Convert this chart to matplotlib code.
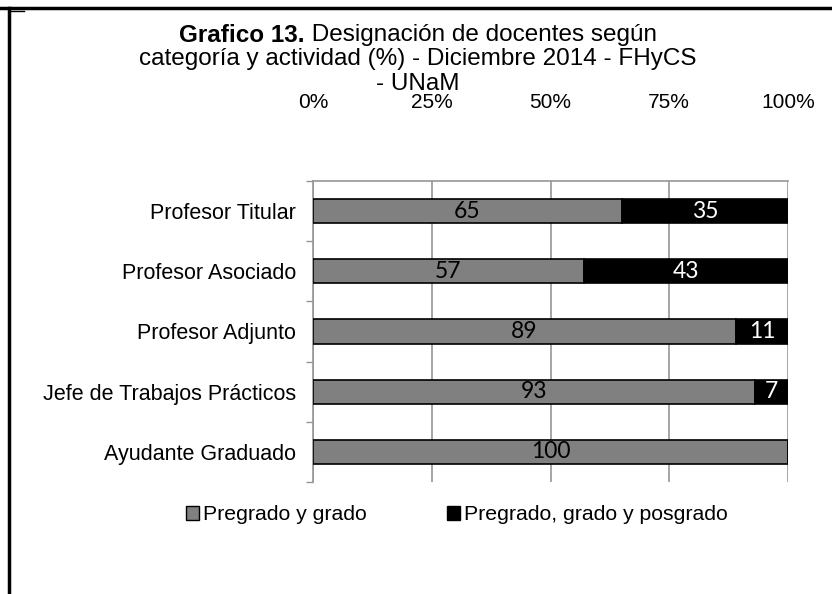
import matplotlib
matplotlib.use("Agg")
import matplotlib.pyplot as plt
from matplotlib.patches import Patch
from matplotlib.lines import Line2D

plt.rcParams['font.family'] = ['Liberation Sans', 'DejaVu Sans']

categories = ['Profesor Titular', 'Profesor Asociado', 'Profesor Adjunto',
              'Jefe de Trabajos Prácticos', 'Ayudante Graduado']
pregrado_grado = [65, 57, 89, 93, 100]
con_posgrado = [35, 43, 11, 7, 0]
series_names = ['Pregrado y grado', 'Pregrado, grado y posgrado']
x_ticks = [0, 25, 50, 75, 100]
x_ticklabels = ['0%', '25%', '50%', '75%', '100%']

fig = plt.figure(figsize=(8.32, 5.94), dpi=100)
W, H = 832, 594
ax = fig.add_axes([313 / W, 1 - 482 / H, (788 - 313) / W, (482 - 181) / H])

y = list(range(len(categories)))
ax.barh(y, pregrado_grado, height=0.4, color='#808080', edgecolor='black', linewidth=1.2, zorder=3)
ax.barh(y, con_posgrado, left=pregrado_grado, height=0.4, color='black', edgecolor='black', linewidth=1.2, zorder=3)

for i in y:
    a = pregrado_grado[i]
    b = con_posgrado[i]
    ax.text(a / 2, i, str(a), ha='center', va='center', fontsize=16.5,
            family='Lato', color='black', zorder=4)
    if b > 0:
        ax.text(a + b / 2, i, str(b), ha='center', va='center', fontsize=16.5,
                family='Lato', color='white', zorder=4)

ax.set_xlim(0, 100)
ax.set_ylim(len(categories) - 0.5, -0.5)
ax.set_xticks(x_ticks)
ax.set_xticklabels(x_ticklabels)
ax.xaxis.tick_top()
ax.tick_params(axis='x', length=0, pad=50, labelsize=15)
ax.set_yticks(y)
ax.set_yticklabels(categories)
ax.set_yticks([i + 0.5 for i in range(-1, len(categories))], minor=True)
ax.tick_params(axis='y', which='major', length=0, pad=12, labelsize=15.5)
ax.tick_params(axis='y', which='minor', length=5, color='#969696', width=1)
ax.grid(axis='x', color='#969696', linewidth=1.2, zorder=0)
for s in ['right', 'bottom']:
    ax.spines[s].set_visible(False)
for s in ['top', 'left']:
    ax.spines[s].set_color('#969696')
    ax.spines[s].set_linewidth(1.2)

# legend
handles = [Patch(facecolor='#808080', edgecolor='black', linewidth=1),
           Patch(facecolor='black', edgecolor='black', linewidth=1)]
fig.legend(handles, series_names, loc='center', bbox_to_anchor=(457 / W, 1 - 515 / H),
           ncol=2, frameon=False, fontsize=15.3, handlelength=0.6, handleheight=0.6,
           handletextpad=0.2, columnspacing=3.8)

# title: bold prefix + normal text, centered lines
cx = 418 / W
fs_title = 17.5
fig.canvas.draw()
r = fig.canvas.get_renderer()
t1a = fig.text(0, 1 - 35.5 / H, 'Grafico 13.', fontsize=fs_title, fontweight='bold', va='center')
t1b = fig.text(0, 1 - 35.5 / H, ' Designación de docentes según', fontsize=fs_title, va='center')
wa = t1a.get_window_extent(r).width
wb = t1b.get_window_extent(r).width
x0 = cx * W - (wa + wb) / 2
t1a.set_x(x0 / W)
t1b.set_x((x0 + wa) / W)
fig.text(cx, 1 - 59.5 / H, 'categoría y actividad (%) - Diciembre 2014 - FHyCS',
         fontsize=fs_title, ha='center', va='center')
fig.text(cx, 1 - 83.5 / H, '- UNaM', fontsize=fs_title, ha='center', va='center')

# outer frame lines
fig.add_artist(Line2D([0, 1], [1 - 8 / H, 1 - 8 / H], color='black', linewidth=2.5))
fig.add_artist(Line2D([9 / W, 9 / W], [0, 1 - 8 / H], color='black', linewidth=2.5))
fig.add_artist(Line2D([9 / W, 24 / W], [1 - 11 / H, 1 - 11 / H], color='black', linewidth=1))

fig.savefig('out.png', dpi=100)
